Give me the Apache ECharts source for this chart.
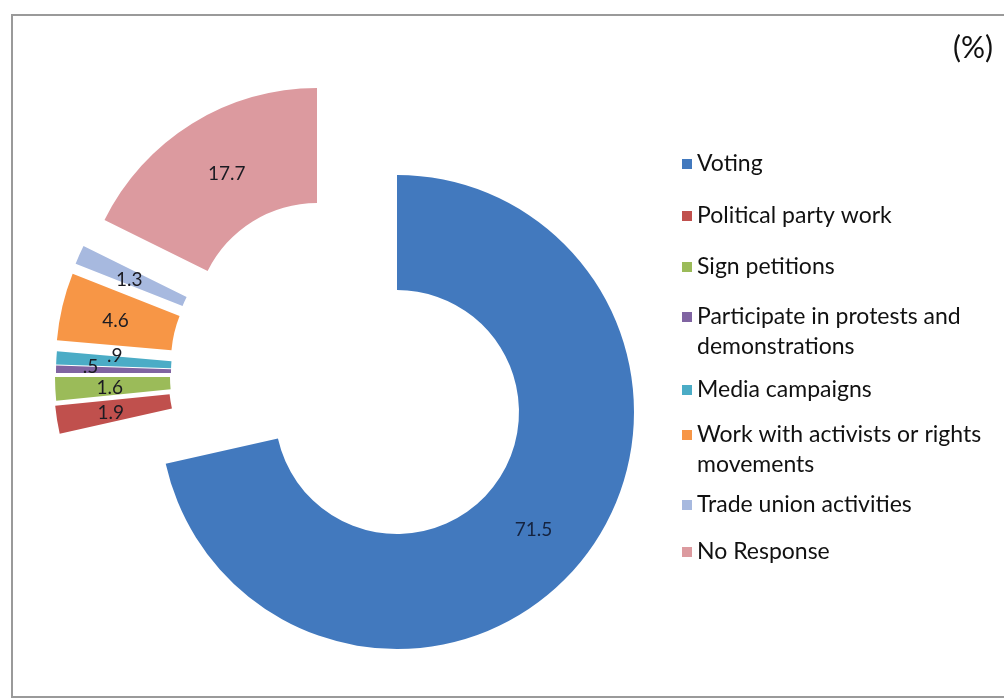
<!DOCTYPE html>
<html>
<head>
<meta charset="utf-8">
<script src="https://cdn.jsdelivr.net/npm/echarts@6/dist/echarts.min.js"></script>
<style>
html,body{margin:0;padding:0;background:#fff;}
#chart{width:1004px;height:700px;}
</style>
</head>
<body>
<div id="chart"></div>
<script>
// ---- data ----
const categories = ['Voting', 'Political party work', 'Sign petitions', 'Participate in protests and demonstrations', 'Media campaigns', 'Work with activists or rights movements', 'Trade union activities', 'No Response'];
const values = [71.5, 1.9, 1.6, 0.5, 0.9, 4.6, 1.3, 17.7];
const legendLabels = ['Voting', 'Political party work', 'Sign petitions', 'Participate in protests and\ndemonstrations', 'Media campaigns', 'Work with activists or rights\nmovements', 'Trade union activities', 'No Response'];
const unitLabel = '(%)';

// ---- styling / layout ----
const colors = ['#4279be', '#c0504d', '#9bbb59', '#8064a2', '#4bacc6', '#f79646', '#a7b9df', '#dc9a9f'];
// each slice is exploded to its own centre
const centers = [[397, 412], [291, 382], [292, 377], [293, 373], [293, 372], [293, 361], [296, 351], [317, 325]];
const labelShift = [[-6, 4], [0, 2], [0, 2], [-20, -3], [4, -5], [0, 2], [0, 3], [6, 4]];
const legendIconY = [164, 216, 267, 317, 390, 435, 505, 552];
const FONT = 'Lato';
const LH = 30;

function fmt(v) {
  return String(v).replace(/^0\./, '.');
}

const series = categories.map((cat, i) => ({
  type: 'pie',
  name: cat,
  center: centers[i],
  radius: [122, 237],
  startAngle: 90,
  clockwise: true,
  avoidLabelOverlap: false,
  silent: true,
  animation: false,
  emphasis: { disabled: true },
  labelLine: { show: false },
  label: { show: false },
  labelLayout: { dx: labelShift[i][0], dy: labelShift[i][1] },
  data: values.map((v, j) => ({
    name: categories[j],
    value: v,
    itemStyle: { color: j === i ? colors[j] : 'rgba(0,0,0,0)' },
    label: j === i ? {
      show: true,
      position: 'inside',
      formatter: (p) => fmt(p.value),
      fontFamily: FONT,
      fontSize: 19,
      color: j === 0 ? '#15233f' : '#1b1b22'
    } : { show: false }
  }))
}));

// multi-line legend entries: a leading empty line keeps the icon level with the first text line
const legends = categories.map((cat, i) => {
  const lines = legendLabels[i].split('\n').length;
  const text = lines === 1 ? legendLabels[i] : '\n'.repeat(lines - 1) + legendLabels[i];
  const h = LH * (2 * lines - 1);
  return {
    orient: 'vertical',
    left: 682,
    top: legendIconY[i] - h / 2,
    padding: 0,
    itemWidth: 10,
    itemHeight: 10,
    itemGap: 0,
    selectedMode: false,
    formatter: () => text,
    data: [{
      name: cat,
      icon: 'rect',
      itemStyle: { color: colors[i] },
      textStyle: {
        fontFamily: FONT,
        fontSize: 23,
        lineHeight: LH,
        color: '#111'
      }
    }]
  };
});

const chart = echarts.init(document.getElementById('chart'), null, { renderer: 'canvas' });
chart.setOption({
  backgroundColor: '#ffffff',
  animation: false,
  title: {
    text: unitLabel,
    right: 11,
    top: 33,
    padding: 0,
    textStyle: { fontFamily: FONT, fontSize: 30, fontWeight: 'normal', color: '#111' }
  },
  graphic: [{
    type: 'rect',
    silent: true,
    shape: { x: 12, y: 15, width: 1000, height: 682 },
    style: { fill: 'none', stroke: '#9a9a9a', lineWidth: 2 },
    z: -1
  }],
  legend: legends,
  series: series
});
</script>
</body>
</html>
